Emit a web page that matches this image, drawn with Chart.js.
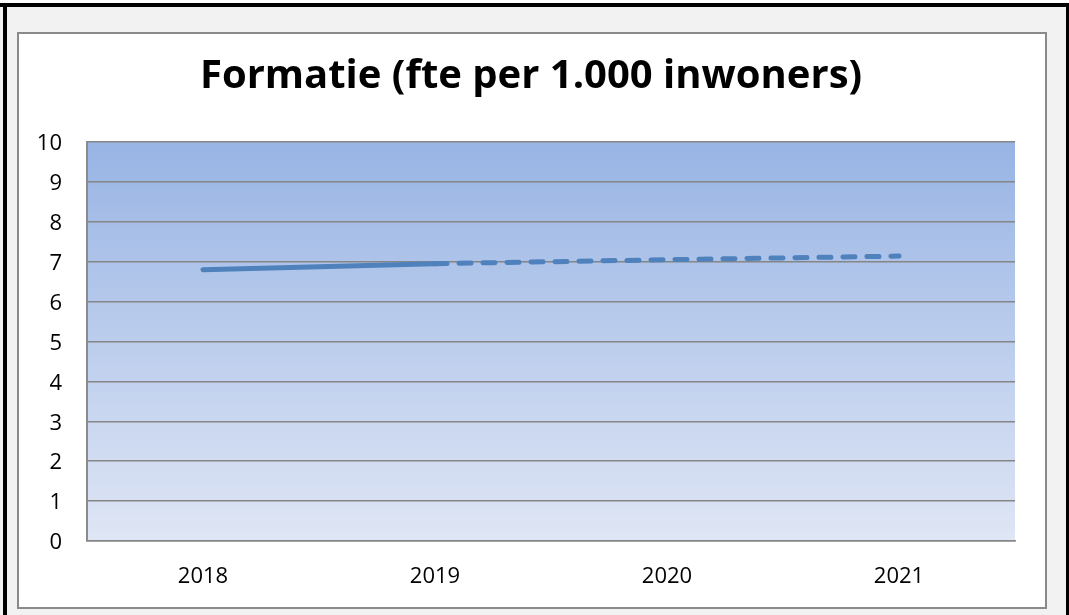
<!DOCTYPE html>
<html>
<head>
<meta charset="utf-8">
<script src="https://cdn.jsdelivr.net/npm/chart.js@4.4.1/dist/chart.umd.min.js"></script>
<style>
  html, body { margin: 0; padding: 0; }
  body { width: 1069px; height: 615px; background: #f2f2f2; position: relative; overflow: hidden; }
  #topstrip { position: absolute; left: 0; top: 0; width: 1069px; height: 3px; background: #fff; }
  #topbar { position: absolute; left: 0; top: 3px; width: 1069px; height: 4px; background: #000; }
  #leftbar { position: absolute; left: 3px; top: 3px; width: 4px; height: 612px; background: #000; }
  #rightbar { position: absolute; left: 1066px; top: 3px; width: 3px; height: 612px; background: #000; }
  #box { position: absolute; left: 17px; top: 32px; width: 1026px; height: 573px; background: #fff; border: 2px solid #8a8a8a; }
  #chart { position: absolute; left: 0; top: 0; }
</style>
</head>
<body>
<div id="topstrip"></div>
<div id="topbar"></div>
<div id="leftbar"></div>
<div id="rightbar"></div>
<div id="box"><canvas id="chart" width="1026" height="573"></canvas></div>
<script>
// Gegevens
const jaren = ['2018', '2019', '2020', '2021'];
const formatie = [6.8, 6.95, 7.05, 7.14];
const yTicks = [0, 1, 2, 3, 4, 5, 6, 7, 8, 9, 10];
const titel = 'Formatie (fte per 1.000 inwoners)';

// achtergrond van het plotgebied (verloop)
const plotBackground = {
    id: 'plotBackground',
    beforeDraw(chart) {
        const { ctx, chartArea } = chart;
        const g = ctx.createLinearGradient(0, chartArea.top, 0, chartArea.bottom);
        g.addColorStop(0, '#98b4e4');
        g.addColorStop(1, '#dfe6f5');
        ctx.save();
        ctx.fillStyle = g;
        ctx.fillRect(chartArea.left, chartArea.top, chartArea.right - chartArea.left, chartArea.bottom - chartArea.top);
        ctx.restore();
    }
};

// titel zelf tekenen, gecentreerd over het hele kader
const titelPlugin = {
    id: 'titelPlugin',
    afterDraw(chart) {
        const ctx = chart.ctx;
        ctx.save();
        ctx.fillStyle = '#000';
        ctx.font = 'bold 40px "Open Sans"';
        ctx.textAlign = 'center';
        ctx.textBaseline = 'alphabetic';
        ctx.fillText(titel, 512, 54);
        ctx.restore();
    }
};

const ctx = document.getElementById('chart').getContext('2d');
new Chart(ctx, {
    type: 'line',
    data: {
        labels: jaren,
        datasets: [{
            data: formatie,
            borderColor: '#4f81bd',
            borderWidth: 5,
            borderCapStyle: 'round',
            pointRadius: 0,
            tension: 0,
            fill: false,
            segment: {
                borderDash: c => c.p0DataIndex >= 1 ? [12, 12] : undefined
            }
        }]
    },
    options: {
        responsive: false,
        animation: false,
        devicePixelRatio: 1,
        layout: { padding: { left: 0, right: 30, top: 108, bottom: 16 } },
        plugins: {
            legend: { display: false },
            tooltip: { enabled: false },
            title: { display: false }
        },
        scales: {
            x: {
                offset: true,
                afterFit: s => { s.height = 50; },
                grid: { display: false, drawTicks: false },
                border: { display: true, color: '#868686', width: 1.5 },
                ticks: { color: '#000', padding: 23, font: { family: 'Open Sans', size: 22 } }
            },
            y: {
                min: 0,
                max: 10,
                afterBuildTicks: s => { s.ticks = yTicks.map(v => ({ value: v })); },
                afterFit: s => { s.width = 68; },
                grid: { color: '#868686', lineWidth: 1.5, drawTicks: false },
                border: { display: true, color: '#8a8a8a', width: 2 },
                ticks: { color: '#000', padding: 25, labelOffset: 2, font: { family: 'Open Sans', size: 22 } }
            }
        }
    },
    plugins: [plotBackground, titelPlugin]
});
</script>
</body>
</html>
